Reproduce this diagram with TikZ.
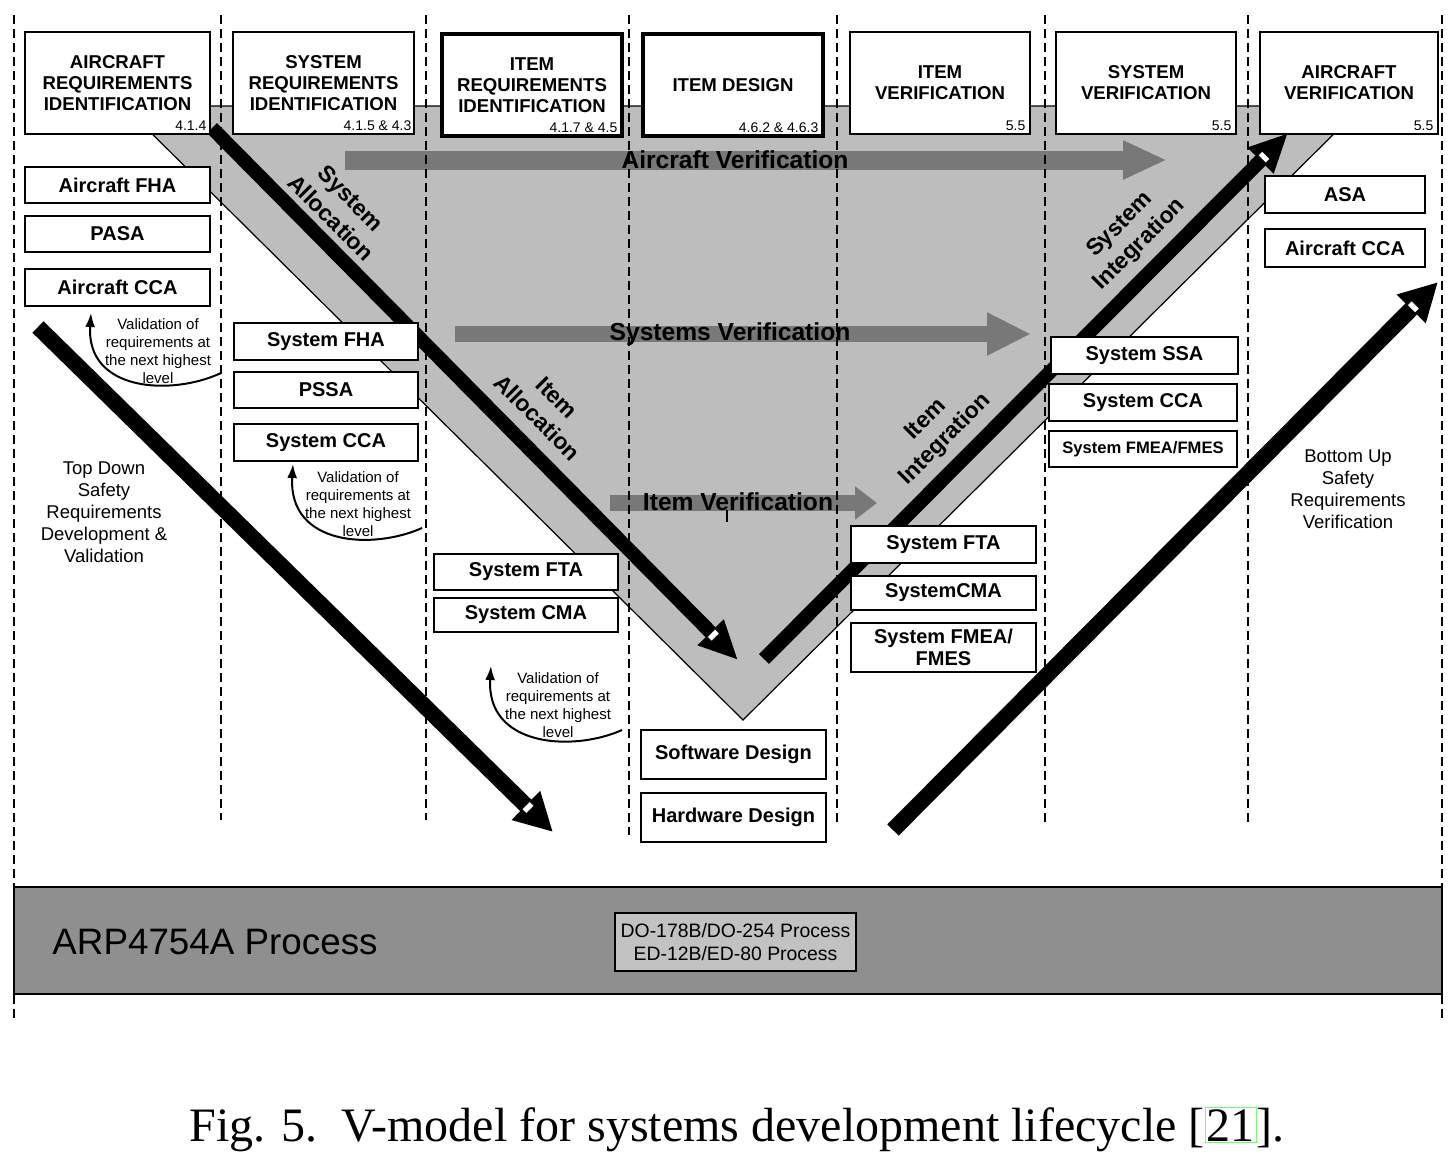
\documentclass[tikz,border=0pt]{standalone}
\usepackage{fontspec}
\setmainfont{Liberation Sans}
\newfontfamily\capfont{Liberation Serif}
\usetikzlibrary{arrows.meta,calc}
\definecolor{vgray}{gray}{0.74}
\definecolor{agray}{gray}{0.47}
\definecolor{bandgray}{gray}{0.56}
\definecolor{ingray}{gray}{0.76}
\definecolor{linkgreen}{rgb}{0.45,1,0.45}
\tikzset{
  hdr/.style={draw, fill=white, line width=0.8pt, minimum height=51pt, minimum width=91pt,
    font=\bfseries\fontsize{9.3}{10.5}\selectfont, align=center, inner sep=0pt},
  hdrthick/.style={hdr, line width=1.7pt, minimum height=51pt},
  num/.style={font=\fontsize{7}{8}\selectfont, anchor=south east, inner sep=0pt},
  sbox/.style={draw, fill=white, line width=0.8pt, minimum width=92.5pt, minimum height=18pt,
    font=\bfseries\fontsize{10}{11}\selectfont, inner sep=0pt, align=center},
  glabel/.style={font=\bfseries\fontsize{12.3}{14}\selectfont, inner sep=0pt},
  rotlabel/.style={font=\bfseries\fontsize{11.5}{14}\selectfont, align=center, inner sep=0pt},
  note/.style={font=\fontsize{7.5}{9}\selectfont, align=center, inner sep=0pt},
  sidenote/.style={font=\fontsize{9.25}{11}\selectfont, align=center, inner sep=0pt},
  dline/.style={line width=1.4pt, dash pattern=on 4.5pt off 2.5pt},
  garrow/.style={draw=agray},
  barrow/.style={line width=7pt, -{Triangle[length=19.5pt,width=17pt]}},
  barrowb/.style={line width=8pt, -{Triangle[length=19pt,width=19pt]}},
  notch/.style={draw=black, line width=0.3pt, fill=white, minimum width=3pt, minimum height=5.5pt, inner sep=0pt},
  varrow/.style={line width=1pt, -{Latex[length=7pt,width=5pt]}},
}
\begin{document}
\begin{tikzpicture}[x=0.5pt,y=-0.5pt]
\useasboundingbox (0,0) rectangle (1456,1158);
\fill[white] (0,0) rectangle (1456,1158);

% grey V
\draw[fill=vgray, line width=0.6pt] (124,106) -- (1362,106) -- (743,720) -- cycle;

% grey horizontal arrows
\coordinate (av1) at (345,160); \coordinate (av2) at (1167,160);
\draw[garrow, line width=9.5pt, -{Triangle[length=22pt,width=18pt]}] (av1) -- (av2);
\coordinate (sv1) at (455,334); \coordinate (sv2) at (1031,334);
\draw[garrow, line width=8pt, -{Triangle[length=22pt,width=20pt]}] (sv1) -- (sv2);
\coordinate (iv1) at (610,503); \coordinate (iv2) at (877,503);
\draw[garrow, line width=8pt, -{Triangle[length=11pt,width=16pt]}] (iv1) -- (iv2);

\node[glabel] (lav) at (735,160) {Aircraft Verification};
\node[glabel] (lsv) at (730,334) {Systems Verification};
\node[glabel] (liv) at (738,502) {Item Verification};
\draw[line width=0.6pt] (727,510) -- (727,522);

% dashed column lines
\foreach \x/\yb in {221/820, 426/820, 629/835, 837/823, 1045/826, 1248/822}
  \draw[dline] (\x,15) -- (\x,\yb);
\draw[dline] (14,15) -- (14,1020);
\draw[dline] (1442,15) -- (1442,1020);

% black arrows
\coordinate (a1s) at (212,128); \coordinate (a1t) at (738,660);
\draw[barrow] (a1s) -- (a1t);
\node[notch, rotate=-45] (n1) at ($(a1t)!17.5pt!(a1s)$) {};
\coordinate (a2s) at (764,659); \coordinate (a2t) at (1288,133);
\draw[barrow] (a2s) -- (a2t);
\node[notch, rotate=45] (n2) at ($(a2t)!17pt!(a2s)$) {};
\coordinate (a3s) at (38,327); \coordinate (a3t) at (553,832);
\draw[barrowb] (a3s) -- (a3t);
\node[notch, rotate=-45] (n3) at ($(a3t)!17.5pt!(a3s)$) {};
\coordinate (a4s) at (893,830); \coordinate (a4t) at (1438,282);
\draw[barrowb] (a4s) -- (a4t);
\node[notch, rotate=45] (n4) at ($(a4t)!17.5pt!(a4s)$) {};

% rotated labels
\node[rotlabel, rotate=-45] (lsa) at (341,208) {System\\Allocation};
\node[rotlabel, rotate=-45] (lia) at (547,408) {Item\\Allocation};
\node[rotlabel, rotate=45] (lsi) at (1130,235) {System\\Integration};
\node[rotlabel, rotate=45] (lii) at (936,430) {Item\\Integration};

% header boxes
\node[hdr, minimum width=92.5pt] (h1) at (117.5,83) {AIRCRAFT\\REQUIREMENTS\\IDENTIFICATION};
\node[num] at ($(h1.south east)+(-4,-4)$) {4.1.4};
\node[hdr, minimum width=90.5pt] (h2) at (323.5,83) {SYSTEM\\REQUIREMENTS\\IDENTIFICATION};
\node[num] at ($(h2.south east)+(-3,-4)$) {4.1.5 \& 4.3};
\node[hdrthick, minimum width=90pt] (h3) at (532,85) {ITEM\\REQUIREMENTS\\IDENTIFICATION};
\node[num] at ($(h3.south east)+(-6,-5)$) {4.1.7 \& 4.5};
\node[hdrthick, minimum width=90pt] (h4) at (733,85) {ITEM DESIGN};
\node[num] at ($(h4.south east)+(-6,-5)$) {4.6.2 \& 4.6.3};
\node[hdr, minimum width=90pt] (h5) at (940,83) {ITEM\\VERIFICATION};
\node[num] at ($(h5.south east)+(-5,-4)$) {5.5};
\node[hdr, minimum width=90pt] (h6) at (1146,83) {SYSTEM\\VERIFICATION};
\node[num] at ($(h6.south east)+(-5,-4)$) {5.5};
\node[hdr, minimum width=89pt] (h7) at (1349,83) {AIRCRAFT\\VERIFICATION};
\node[num] at ($(h7.south east)+(-5,-4)$) {5.5};

% column 1
\node[sbox] (afha) at (117.5,185) {Aircraft FHA};
\node[sbox] (pasa) at (117.5,234) {PASA};
\node[sbox, minimum height=18.5pt] (acca) at (117.5,287.5) {Aircraft CCA};
% column 2
\node[sbox, minimum width=92pt, minimum height=18.5pt] (sfha) at (326,341.5) {System FHA};
\node[sbox, minimum width=92pt] (pssa) at (326,390) {PSSA};
\node[sbox, minimum width=92pt, minimum height=18.5pt] (scca) at (326,442.5) {System CCA};
% column 3
\node[sbox, minimum width=92pt] (sfta) at (526,572) {System FTA};
\node[sbox, minimum width=92pt, minimum height=17pt] (scma) at (526,615) {System CMA};
% column 4
\node[sbox, minimum height=24.5pt] (swd) at (733.5,754.5) {Software Design};
\node[sbox, minimum height=24.5pt] (hwd) at (733.5,817.5) {Hardware Design};
% column 5
\node[sbox, minimum height=18.5pt] (sfta2) at (943.5,544.5) {System FTA};
\node[sbox, minimum height=17pt] (scma2) at (943.5,593) {SystemCMA};
\node[sbox, minimum height=24.5pt] (sfmea) at (943.5,647.5) {System FMEA/\\FMES};
% column 6
\node[sbox, minimum width=93.5pt, minimum height=18.5pt] (sssa) at (1144.5,355.5) {System SSA};
\node[sbox, minimum width=94pt, minimum height=18.5pt] (scca2) at (1143,402.5) {System CCA};
\node[sbox, minimum width=94pt, font=\bfseries\fontsize{8.3}{10}\selectfont] (sfmea2) at (1143,449) {System FMEA/FMES};
% column 7
\node[sbox, minimum width=80pt, minimum height=18.5pt] (asa) at (1345,194.5) {ASA};
\node[sbox, minimum width=80pt, minimum height=19pt] (acca2) at (1345,248) {Aircraft CCA};

% validation notes
\node[note] (vn1) at (158,351) {Validation of\\requirements at\\the next highest\\level};
\coordinate (v1s) at (221,373); \coordinate (v1t) at (91,313);
\draw[varrow] (v1s) .. controls (172,396) and (86,392) .. (v1t);
\node[note] (vn2) at (358,504) {Validation of\\requirements at\\the next highest\\level};
\coordinate (v2s) at (422,528); \coordinate (v2t) at (293,464);
\draw[varrow] (v2s) .. controls (373,550) and (288,546) .. (v2t);
\node[note] (vn3) at (558,705) {Validation of\\requirements at\\the next highest\\level};
\coordinate (v3s) at (622,730); \coordinate (v3t) at (491,666);
\draw[varrow] (v3s) .. controls (573,752) and (486,747) .. (v3t);

% side texts
\node[sidenote] (td) at (104,512.5) {Top Down\\Safety\\Requirements\\Development \&\\Validation};
\node[sidenote] (bu) at (1348,489) {Bottom Up\\Safety\\Requirements\\Verification};

% bottom band
\draw[fill=bandgray, line width=1pt] (14,887) rectangle (1442,994);
\node[anchor=west, font=\fontsize{18.4}{20}\selectfont, inner sep=0pt] (arp) at (52,942) {ARP4754A Process};
\node[draw, fill=ingray, line width=0.8pt, minimum width=120.5pt, minimum height=29pt, inner sep=0pt,
  align=center, font=\fontsize{9.7}{11.5}\selectfont] (doproc) at (735.5,942)
  {DO-178B/DO-254 Process\\ED-12B/ED-80 Process};

% caption
\node[anchor=base, inner sep=0pt, font=\capfont\fontsize{24}{28}\selectfont] (cap) at (737,1141)
  {Fig. 5.\ \ V-model for systems development lifecycle [{\setlength{\fboxsep}{0.5pt}\setlength{\fboxrule}{0.5pt}\fcolorbox{linkgreen}{white}{21}}].};
\end{tikzpicture}
\end{document}
